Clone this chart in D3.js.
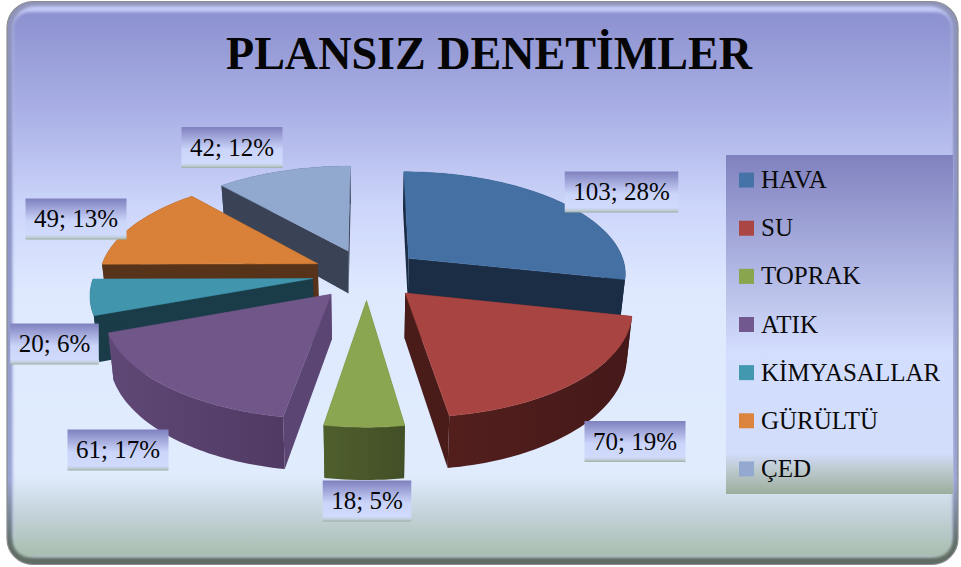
<!DOCTYPE html>
<html>
<head>
<meta charset="utf-8">
<style>
  html, body { margin: 0; padding: 0; background: #fff; }
  svg { display: block; font-family: "Liberation Serif", serif; }
</style>
<script src="https://cdn.jsdelivr.net/npm/d3@7"></script>
</head>
<body>
<div id="chart"></div>
<script>
const titleText = 'PLANSIZ DENETİMLER';
const categories = ['HAVA', 'SU', 'TOPRAK', 'ATIK', 'KİMYASALLAR', 'GÜRÜLTÜ', 'ÇED'];
const values = [103, 70, 18, 61, 20, 49, 42];
const percents = [28, 19, 5, 17, 6, 13, 12];

// styles, same order as categories
const topColors = ['#4470a4', '#a84542', '#8aa650', '#715789', '#4196ae', '#d98139', '#91a8cf'];
const legendColors = ['#4573a7', '#aa4643', '#89a54e', '#71588f', '#4198af', '#db843d', '#93a9cf'];
const sideColors = ['#1a2d45', '#4a1c19', '#4d5c2a', '#5a4573', '#1a3c48', '#57331a', '#3a4255'];
const wallLeft = ['#1a2d45', '#55201d', '#4f5f2c', '#604876', '#1a3c48', '#57331a', '#3a4255'];
const wallRight = ['#1a2d45', '#45191a', '#434f27', '#4c365e', '#1a3c48', '#57331a', '#3a4255'];

// data labels were placed by hand in the original
const labelCenters = [[621.5, 192], [635, 441.5], [367, 501], [118, 450], [54.5, 344], [76, 219], [232, 147.5]];

// back to front
const drawOrder = [6, 0, 5, 4, 3, 1, 2];

const width = 961;
const height = 567;

const svg = d3.select('#chart').append('svg')
    .attr('width', width)
    .attr('height', height);

const defs = svg.append('defs');

function addGradient(id, stops, attrs) {
    const g = defs.append('linearGradient').attr('id', id);
    Object.entries(attrs || { x1: 0, y1: 0, x2: 0, y2: 1 }).forEach(([k, v]) => g.attr(k, v));
    stops.forEach(s => g.append('stop').attr('offset', s[0]).attr('stop-color', s[1]));
}

addGradient('bg', [[0, '#8c91cf'], [0.18, '#a9afe5'], [0.36, '#cdd6fb'], [0.52, '#dfe9fe'], [0.85, '#e0ebfd'], [0.93, '#c0d0d5'], [1, '#a8bdad']]);
addGradient('bevel', [[0, '#8f93b8'], [0.4, '#8e96c8'], [0.85, '#9aa4d0'], [0.97, '#5f6d64'], [1, '#5f6d64']]);
addGradient('box', [[0, '#7f80bf'], [0.55, '#cbd5fa'], [0.88, '#d0dafc'], [0.95, '#c0ccd8'], [1, '#9cae9f']]);
addGradient('legendBox', [[0, '#8081bf'], [0.58, '#d3ddfd'], [0.88, '#d2dcfb'], [0.93, '#bcc9cd'], [1, '#9cae9c']]);

defs.append('filter').attr('id', 'soft').attr('x', '-5%').attr('y', '-5%').attr('width', '110%').attr('height', '110%')
    .append('feGaussianBlur').attr('stdDeviation', 1.8);

// frame
svg.append('rect')
    .attr('x', 7).attr('y', 1.5).attr('width', 951).attr('height', 563).attr('rx', 26)
    .attr('fill', 'url(#bevel)').attr('stroke', '#8a8c90').attr('stroke-width', 1.2);
svg.append('rect')
    .attr('x', 13).attr('y', 6).attr('width', 939).attr('height', 551).attr('rx', 22)
    .attr('fill', '#c3caf7').attr('filter', 'url(#soft)');
svg.append('rect')
    .attr('x', 13).attr('y', 12).attr('width', 939).attr('height', 545).attr('rx', 16)
    .attr('fill', 'url(#bg)').attr('filter', 'url(#soft)');

svg.append('text')
    .attr('x', 489).attr('y', 69)
    .attr('text-anchor', 'middle')
    .attr('font-size', 47).attr('font-weight', 'bold').attr('fill', '#050505')
    .attr('textLength', 526).attr('lengthAdjust', 'spacingAndGlyphs')
    .text(titleText);

// pie on a tilted disc with a bit of perspective
const pie = d3.pie().sort(null).value(d => d);
const arcs = pie(values);

const cx = 367;
const cy = 274;
const radiusX = 218.5;
const radiusY = 102;
const persp = 0.134;
const explode = 0.25;
const depth = 44;
const bottomShrink = 0.98;

function project(u, v, isBottom) {
    const w = 1 - persp * v;
    const r = isBottom ? radiusX * bottomShrink : radiusX;
    return [cx + r * u / w, cy + (radiusY * v + (isBottom ? depth : 0)) / w];
}

const line = d3.line();

function rimPoints(arc) {
    const n = Math.max(8, Math.round((arc.endAngle - arc.startAngle) * 40));
    const mid = (arc.startAngle + arc.endAngle) / 2;
    const ou = explode * Math.sin(mid);
    const ov = -explode * Math.cos(mid);
    const rim = d3.range(n + 1).map(i => {
        const a = arc.startAngle + (arc.endAngle - arc.startAngle) * i / n;
        return [ou + Math.sin(a), ov - Math.cos(a)];
    });
    return { apex: [ou, ov], rim };
}

const pieGroup = svg.append('g');

drawOrder.forEach(i => {
    const { apex, rim } = rimPoints(arcs[i]);
    const topRim = rim.map(p => project(p[0], p[1], false));
    const botRim = rim.map(p => project(p[0], p[1], true));
    const topApex = project(apex[0], apex[1], false);
    const botApex = project(apex[0], apex[1], true);

    const xs = d3.extent(topRim.concat([topApex]), p => p[0]);
    addGradient('wall' + i, [[0, wallLeft[i]], [1, wallRight[i]]],
        { gradientUnits: 'userSpaceOnUse', x1: xs[0], y1: 0, x2: xs[1], y2: 0 });

    const g = pieGroup.append('g');

    // the two cut sides
    g.append('path')
        .attr('d', line([topApex, topRim[0], botRim[0], botApex]) + 'Z')
        .attr('fill', sideColors[i]);
    g.append('path')
        .attr('d', line([topApex, topRim[topRim.length - 1], botRim[botRim.length - 1], botApex]) + 'Z')
        .attr('fill', sideColors[i]);

    // outer wall
    g.append('path')
        .attr('d', line(topRim.concat(botRim.slice().reverse())) + 'Z')
        .attr('fill', `url(#wall${i})`);

    // top face
    g.append('path')
        .attr('d', line([topApex].concat(topRim)) + 'Z')
        .attr('fill', topColors[i])
        .attr('stroke', topColors[i]).attr('stroke-width', 0.5);
});

// data labels
const labelFont = 25;
const labelGroup = svg.append('g');
categories.forEach((c, i) => {
    const g = labelGroup.append('g');
    const box = g.append('rect').attr('fill', 'url(#box)');
    const t = g.append('text')
        .attr('x', labelCenters[i][0]).attr('y', labelCenters[i][1] + 8)
        .attr('text-anchor', 'middle')
        .attr('font-size', labelFont).attr('fill', '#050505')
        .text(`${values[i]}; ${percents[i]}%`);
    const w = t.node().getComputedTextLength() + 17;
    box.attr('x', labelCenters[i][0] - w / 2).attr('y', labelCenters[i][1] - 20.5)
        .attr('width', w).attr('height', 41);
});

// legend
const legendY = d3.scaleBand().domain(categories).range([156, 493]);
const legend = svg.append('g');
legend.append('rect')
    .attr('x', 726).attr('y', 155).attr('width', 227).attr('height', 339)
    .attr('fill', 'url(#legendBox)');
const legendRows = legend.selectAll('g.row').data(categories).enter().append('g').attr('class', 'row')
    .attr('transform', d => `translate(739,${legendY(d) + legendY.bandwidth() / 2})`);
legendRows.append('rect')
    .attr('x', 0).attr('y', -7.5).attr('width', 15).attr('height', 15)
    .attr('fill', (d, i) => legendColors[i]);
legendRows.append('text')
    .attr('x', 22).attr('y', 8)
    .attr('font-size', 25).attr('fill', '#0a0a0a')
    .text(d => d);
</script>
</body>
</html>
